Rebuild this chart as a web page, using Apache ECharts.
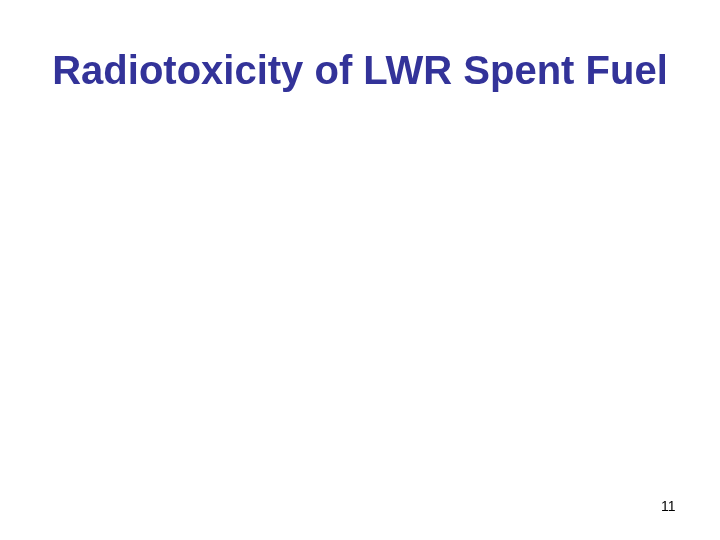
<!DOCTYPE html>
<html lang="en">
<head>
    <meta charset="UTF-8">
    <title>Radiotoxicity of LWR Spent Fuel</title>
    <script src="https://cdn.jsdelivr.net/npm/echarts@6/dist/echarts.min.js"></script>
    <style>
        html, body { margin: 0; padding: 0; background: #ffffff; }
    </style>
</head>
<body>
    <div id="main" style="width: 720px;height: 540px"></div>
    <script type="text/javascript">
        // slide text only, the chart itself is empty on this page
        var slideTitle = 'Radiotoxicity of LWR Spent Fuel';
        var pageNumber = ['11'];

        var myChart = echarts.init(document.getElementById('main'));
        myChart.setOption({
            backgroundColor: '#ffffff',
            animation: false,
            title: [{
                text: slideTitle,
                left: 'center',
                top: 48,
                textStyle: {
                    fontFamily: 'Arial, "Liberation Sans", sans-serif',
                    fontWeight: 'bold',
                    fontSize: 40,
                    color: '#333399'
                }
            }, {
                text: pageNumber[0],
                left: 661,
                top: 500,
                padding: 0,
                textStyle: {
                    fontFamily: 'Arial, "Liberation Sans", sans-serif',
                    fontWeight: 'normal',
                    fontSize: 14,
                    color: '#000000'
                }
            }]
        });
    </script>
</body>
</html>
